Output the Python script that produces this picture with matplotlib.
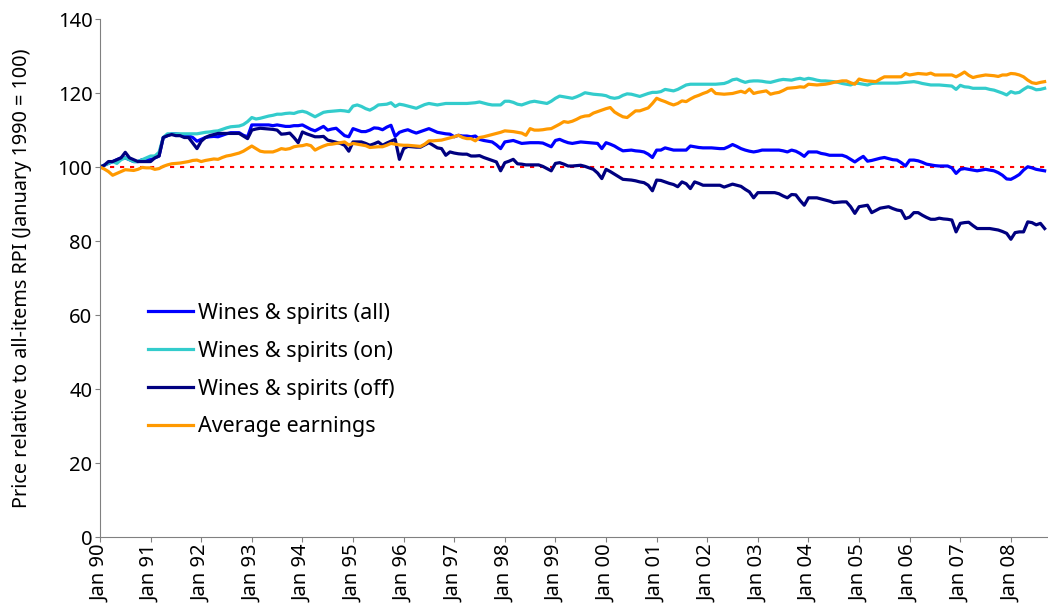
import numpy as np
import matplotlib
matplotlib.use("Agg")
import matplotlib.pyplot as plt

plt.rcParams['font.family'] = ['Noto Sans', 'DejaVu Sans']

# monthly values, Jan 1990 .. Sep 2008
wines_all = [
    100, 100.5, 101, 101.5, 102, 102.5, 102.5, 102, 101.5, 101.5, 102, 102,
    102, 102.5, 103, 108, 108.5, 109, 109, 108.8, 108.5, 108.5, 108, 107,
    107.5, 108, 108.2, 108.3, 108.2, 108.6, 109.0, 109.3, 109.3, 109.3, 108.6, 108.2,
    111.4, 111.4, 111.4, 111.4, 111.4, 111.2, 111.4, 111.2, 111.0, 111.0, 111.2, 111.2,
    111.4, 110.8, 110.2, 109.8, 110.4, 111.0, 110.0, 110.3, 110.5, 109.5, 108.5, 108.2,
    110.4, 110.0, 109.6, 109.6, 110.0, 110.6, 110.5, 110.1, 110.8, 111.3, 108.3, 109.4,
    109.8, 110.1, 109.6, 109.2, 109.6, 110.0, 110.4, 109.9, 109.4, 109.2, 109.0, 108.9,
    108.2, 108.6, 108.4, 108.4, 108.2, 108.4, 107.5, 107.2, 107.0, 106.8, 106.0, 105.0,
    106.8, 107.0, 107.2, 106.8, 106.4, 106.5, 106.6, 106.6, 106.6, 106.5, 106.0, 105.5,
    107.2, 107.5, 107.0, 106.6, 106.4, 106.6, 106.8, 106.7, 106.6, 106.5, 106.4, 105.0,
    106.6, 106.2, 105.7, 105.0, 104.4, 104.5, 104.6, 104.4, 104.3, 104.1, 103.5, 102.6,
    104.6, 104.6, 105.2, 104.9, 104.6, 104.6, 104.6, 104.6, 105.7, 105.5, 105.3, 105.2,
    105.2, 105.2, 105.1, 105.0, 105.0, 105.5, 106.1, 105.6, 105.0, 104.6, 104.3, 104.1,
    104.3, 104.6, 104.6, 104.6, 104.6, 104.6, 104.4, 104.1, 104.6, 104.3, 103.7, 102.9,
    104.1, 104.1, 104.1, 103.7, 103.5, 103.2, 103.2, 103.2, 103.2, 102.8, 102.1, 101.4,
    102.2, 102.9, 101.6, 101.8, 102.1, 102.4, 102.6, 102.3, 102.0, 101.9, 101.2, 100.3,
    101.9, 101.9, 101.7, 101.3, 100.8, 100.6, 100.4, 100.3, 100.3, 100.3, 99.8, 98.3,
    99.4, 99.6, 99.4, 99.2, 99.0, 99.2, 99.4, 99.2, 99.0, 98.5, 97.8, 96.8,
    96.7, 97.3, 98.0, 99.2, 100.1, 99.8, 99.4, 99.2, 99.0,
]

wines_on = [
    100, 100.5, 101, 101.5, 101, 102, 102.5, 102, 101.5, 101.5, 102, 102.5,
    103, 103, 104, 108, 109, 109, 109, 109, 109, 109, 109, 109,
    109.2, 109.4, 109.5, 109.7, 109.8, 110.2, 110.6, 110.9, 111.0, 111.1, 111.5, 112.3,
    113.4, 113.0, 113.2, 113.5, 113.8, 114.0, 114.3, 114.3, 114.5, 114.6, 114.5, 114.9,
    115.1, 114.8, 114.2, 113.6, 114.2, 114.8, 115.0, 115.1, 115.2, 115.3, 115.2, 115.0,
    116.5, 116.8, 116.4, 115.8, 115.4, 116.0, 116.8, 116.9, 117.0, 117.4, 116.4, 117.0,
    116.8, 116.5, 116.2, 115.9, 116.4, 116.9, 117.2, 117.0, 116.8, 117.0, 117.2, 117.2,
    117.2, 117.2, 117.2, 117.2, 117.3, 117.4, 117.6, 117.3, 117.0, 116.8, 116.8, 116.8,
    117.8, 117.8, 117.5, 117.0, 116.8, 117.2, 117.6, 117.8, 117.6, 117.4, 117.2, 117.8,
    118.6, 119.2, 119.0, 118.8, 118.6, 119.0, 119.5, 120.1, 119.9, 119.7, 119.6, 119.5,
    119.3, 118.8, 118.6, 118.8, 119.4, 119.8, 119.7, 119.4, 119.1, 119.5, 119.9, 120.2,
    120.2, 120.4, 121.0, 120.8, 120.6, 121.0, 121.6, 122.2, 122.4, 122.4, 122.4, 122.4,
    122.4, 122.4, 122.4, 122.5, 122.6, 123.0, 123.6, 123.8, 123.3, 122.9, 123.2, 123.3,
    123.3, 123.2, 123.0, 122.9, 123.2, 123.5, 123.7, 123.6, 123.5, 123.8, 124.0, 123.7,
    124.0, 123.8, 123.5, 123.3, 123.3, 123.2, 123.1, 122.9, 122.6, 122.4, 122.2, 122.7,
    122.6, 122.4, 122.2, 122.6, 122.7, 122.7, 122.7, 122.7, 122.7, 122.7, 122.8, 122.9,
    123.0, 123.1, 122.9, 122.6, 122.4, 122.2, 122.2, 122.2, 122.1, 122.0, 121.9, 121.0,
    122.1, 121.7, 121.6, 121.3, 121.3, 121.3, 121.3, 121.0, 120.8, 120.4, 120.0, 119.5,
    120.4, 120.0, 120.2, 121.0, 121.7, 121.4, 120.9, 121.0, 121.3,
]

wines_off = [
    100, 100.5, 101.5, 101.5, 102, 102.5, 104, 102.5, 102, 101.5, 101.5, 101.5,
    101.5, 102.5, 103, 108, 108.5, 108.8, 108.5, 108.5, 108, 108, 106.5, 105,
    107, 108, 108.5, 108.8, 109.1, 109.1, 109.1, 109.1, 109.1, 109.1, 108.4, 107.7,
    110.0, 110.3, 110.5, 110.4, 110.3, 110.2, 110.0, 108.9, 109.0, 109.2, 108.0, 106.6,
    109.5, 109.0, 108.6, 108.2, 108.2, 108.3, 107.3, 107.0, 106.7, 106.4, 105.9, 104.3,
    106.8, 106.8, 106.8, 106.4, 105.9, 106.3, 106.8, 105.9, 106.5, 107.0, 107.5, 102.1,
    105.0, 105.6, 105.5, 105.4, 105.4, 106.0, 106.6, 105.9, 105.2, 105.0, 103.2, 104.1,
    103.8, 103.6, 103.5, 103.5, 103.0, 103.0, 103.1, 102.6, 102.2, 101.8, 101.4, 99.0,
    101.2, 101.6, 102.1, 100.9, 100.8, 100.6, 100.6, 100.6, 100.6, 100.2, 99.6, 99.0,
    101.0, 101.2, 100.8, 100.3, 100.3, 100.4, 100.5, 100.2, 99.8, 99.4, 98.4, 96.9,
    99.4, 98.8, 98.1, 97.4, 96.7, 96.6, 96.5, 96.3, 96.0, 95.8, 95.1, 93.6,
    96.5, 96.4, 96.0, 95.6, 95.3, 94.7, 96.0, 95.5, 94.2, 96.0, 95.6, 95.1,
    95.1, 95.1, 95.1, 95.1, 94.6, 95.0, 95.4, 95.1, 94.8, 94.0, 93.3, 91.7,
    93.1, 93.1, 93.1, 93.1, 93.1, 92.8, 92.2, 91.7, 92.6, 92.5, 91.0, 89.7,
    91.7, 91.7, 91.7, 91.4, 91.1, 90.8, 90.4, 90.5, 90.6, 90.6, 89.3, 87.5,
    89.3, 89.5, 89.7, 87.7, 88.3, 88.9, 89.1, 89.3, 88.8, 88.4, 88.2, 86.1,
    86.5, 87.7, 87.7, 87.0, 86.4, 85.9, 85.9, 86.2, 86.0, 85.9, 85.7, 82.5,
    84.8, 85.0, 85.1, 84.2, 83.4, 83.4, 83.4, 83.4, 83.2, 83.0, 82.6, 82.1,
    80.5, 82.3, 82.5, 82.5, 85.2, 85.0, 84.4, 84.8, 83.4,
]

earnings = [
    100, 99.5, 98.8, 97.8, 98.3, 98.8, 99.3, 99.2, 99.1, 99.4, 99.9, 99.8,
    99.8, 99.4, 99.6, 100.2, 100.6, 100.9, 101.0, 101.1, 101.3, 101.5, 101.8, 101.9,
    101.5, 101.8, 102.0, 102.2, 102.1, 102.6, 103.0, 103.2, 103.5, 103.8, 104.3, 105.0,
    105.7, 105.0, 104.3, 104.1, 104.1, 104.1, 104.5, 105.0, 104.8, 105.0, 105.5, 105.7,
    105.8, 106.1, 105.8, 104.6, 105.2, 105.7, 106.1, 106.2, 106.4, 106.6, 106.8, 106.0,
    106.4, 106.2, 106.0, 105.8, 105.3, 105.4, 105.5, 105.5, 105.9, 106.4, 106.2, 106.0,
    105.9, 105.9, 105.8, 105.7, 105.6, 106.2, 107.1, 107.1, 107.2, 107.3, 107.6, 107.9,
    108.2, 108.6, 108.0, 107.7, 107.7, 107.1, 108.0, 108.2, 108.5, 108.8, 109.1, 109.4,
    109.8, 109.7, 109.6, 109.4, 109.2, 108.6, 110.4, 110.0, 110.0, 110.1, 110.3, 110.4,
    111.0, 111.6, 112.3, 112.1, 112.4, 112.9, 113.5, 113.8, 113.9, 114.6, 115.0, 115.4,
    115.8, 116.1, 114.9, 114.2, 113.6, 113.4, 114.3, 115.2, 115.2, 115.6, 116.0, 117.2,
    118.6, 118.1, 117.7, 117.2, 116.8, 117.2, 117.9, 117.7, 118.4, 119.0, 119.4, 119.9,
    120.3, 121.0, 119.9, 119.8, 119.7, 119.8, 119.9, 120.2, 120.5, 120.1, 121.1, 119.9,
    120.2, 120.4, 120.6, 119.7, 120.0, 120.2, 120.7, 121.3, 121.4, 121.5, 121.7, 121.6,
    122.4, 122.3, 122.2, 122.3, 122.4, 122.6, 122.9, 123.1, 123.3, 123.3, 122.8, 122.4,
    123.8, 123.5, 123.3, 123.2, 123.1, 123.8, 124.4, 124.4, 124.4, 124.4, 124.4, 125.3,
    124.9, 125.1, 125.3, 125.2, 125.1, 125.4, 124.9, 124.9, 124.9, 124.9, 124.9, 124.4,
    125.0, 125.7, 124.8, 124.2, 124.5, 124.7, 124.9, 124.8, 124.7, 124.5, 124.9, 124.9,
    125.3, 125.2, 124.9, 124.4, 123.5, 122.8, 122.6, 122.9, 123.1,
]

year_labels = ["Jan 90", "Jan 91", "Jan 92", "Jan 93", "Jan 94", "Jan 95", "Jan 96",
               "Jan 97", "Jan 98", "Jan 99", "Jan 00", "Jan 01", "Jan 02", "Jan 03",
               "Jan 04", "Jan 05", "Jan 06", "Jan 07", "Jan 08"]

months = np.arange(len(wines_all))

fig = plt.figure(figsize=(10.48, 6.16), dpi=100)
ax = fig.add_axes([0.0954, 0.128, 0.9046, 0.841])

ax.plot(months, wines_all, color='#0000FF', lw=2.3, label="Wines & spirits (all)")
ax.plot(months, wines_on, color='#33CCCC', lw=2.3, label="Wines & spirits (on)")
ax.plot(months, wines_off, color='#000080', lw=2.3, label="Wines & spirits (off)")
ax.plot(months, earnings, color='#FF9900', lw=2.3, label="Average earnings")
ax.axhline(100, color='red', lw=1.5, linestyle=(0, (2, 2.8)), zorder=1)

ax.set_xlim(0, 224.8)
ax.set_ylim(0, 140)
ax.set_yticks(range(0, 141, 20))
ax.set_xticks(np.arange(len(year_labels)) * 12)
ax.set_xticklabels(year_labels, rotation=90)
ax.tick_params(labelsize=14.5, direction='out', length=3.6, color='#808080', pad=1.8)
ax.set_ylabel("Price relative to all-items RPI (January 1990 = 100)", fontsize=14.3)
ax.yaxis.set_label_coords(-0.072, 0.5)

for s in ['top', 'right']:
    ax.spines[s].set_visible(False)
for s in ['left', 'bottom']:
    ax.spines[s].set_color('#808080')

ax.legend(loc='upper left', bbox_to_anchor=(0.0506, 0.452), frameon=False,
          fontsize=15.5, handlelength=2.1, handletextpad=0.23, labelspacing=0.78,
          borderpad=0, borderaxespad=0)

plt.savefig("out.png", dpi=100)
